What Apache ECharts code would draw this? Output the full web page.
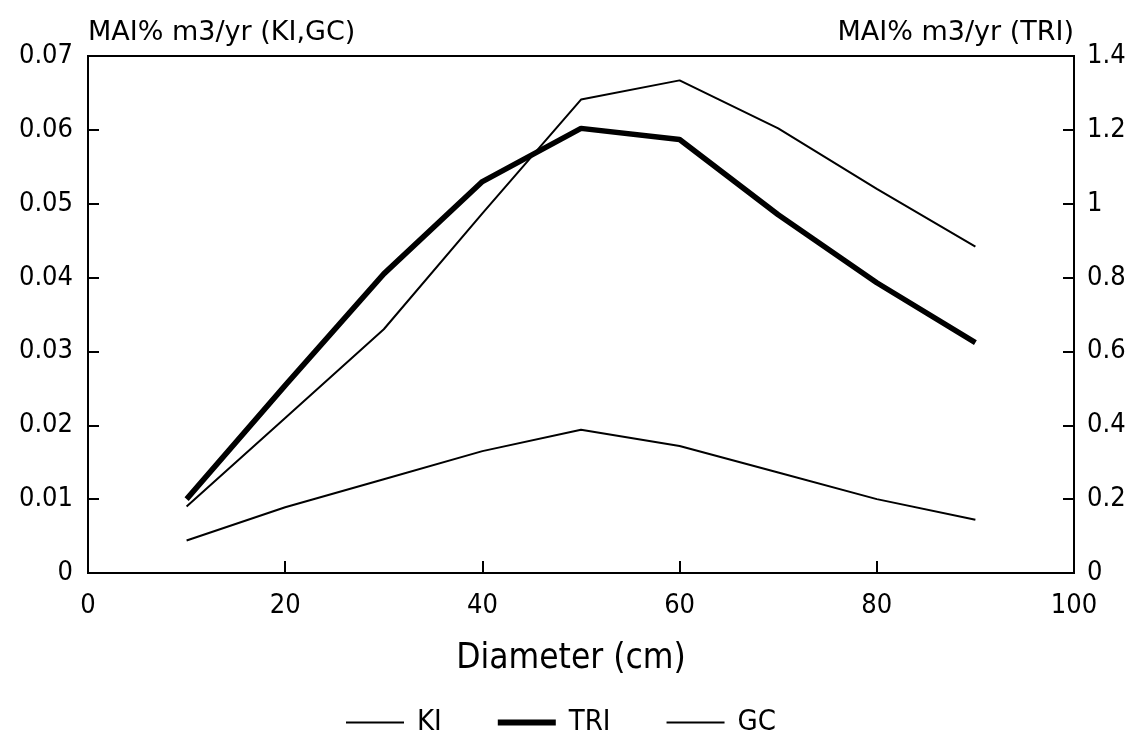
<!DOCTYPE html>
<html>
<head>
<meta charset="utf-8">
<script src="https://cdn.jsdelivr.net/npm/echarts@6/dist/echarts.min.js"></script>
<style>
html,body{margin:0;padding:0;background:#fff;}
#chart{width:1133px;height:746px;}
</style>
</head>
<body>
<div id="chart"></div>
<script>
const diameters = [10, 20, 30, 40, 50, 60, 70, 80, 90];
const kiValues = [0.009, 0.021, 0.033, 0.0487, 0.0641, 0.0667, 0.0602, 0.052, 0.0442];
const triValues = [0.2, 0.508, 0.81, 1.06, 1.204, 1.174, 0.97, 0.786, 0.624];
const gcValues = [0.0044, 0.0089, 0.0127, 0.0165, 0.0194, 0.0172, 0.0136, 0.0100, 0.0072];
const seriesNames = ['KI', 'TRI', 'GC'];
const leftAxisName = 'MAI% m3/yr (KI,GC)';
const rightAxisName = 'MAI% m3/yr (TRI)';
const xAxisName = 'Diameter (cm)';

const FONT = '"DejaVu Sans Condensed", "Liberation Sans Narrow", "DejaVu Sans", sans-serif';
const WIDE = '"DejaVu Sans", sans-serif';
const pairs = vals => diameters.map((d, i) => [d, vals[i]]);
const thinIcon = 'path://M0,0 L58,0 L58,2 L0,2 Z';
const thickIcon = 'path://M0,0 L58,0 L58,6 L0,6 Z';

const chart = echarts.init(document.getElementById('chart'));
chart.setOption({
  animation: false,
  backgroundColor: '#fff',
  grid: {left: 88, right: 59, top: 56, bottom: 173, show: true, borderColor: '#000', borderWidth: 2, backgroundColor: 'transparent'},
  legend: {
    left: 341, top: 703, itemWidth: 58, itemHeight: 14, itemGap: 56,
    data: [
      {name: seriesNames[0], icon: thinIcon},
      {name: seriesNames[1], icon: thickIcon},
      {name: seriesNames[2], icon: thinIcon}
    ],
    itemStyle: {color: '#000', borderWidth: 0},
    textStyle: {fontFamily: FONT, fontSize: 29, color: '#000', padding: [0, 0, 0, 8]}
  },
  xAxis: {
    type: 'value', min: 0, max: 100, interval: 20,
    name: xAxisName, nameLocation: 'middle', nameGap: 68,
    nameTextStyle: {fontFamily: FONT, fontSize: 35, color: '#000', padding: [0, 20, 0, 0]},
    axisLine: {show: true, lineStyle: {color: '#000', width: 2}},
    axisTick: {show: true, inside: true, length: 12, lineStyle: {color: '#000', width: 2}},
    axisLabel: {fontFamily: FONT, fontSize: 27, color: '#000', margin: 19},
    splitLine: {show: false}
  },
  yAxis: [{
    type: 'value', min: 0, max: 0.07, interval: 0.01, position: 'left',
    name: leftAxisName, nameLocation: 'end', nameGap: 10,
    nameTextStyle: {fontFamily: WIDE, fontSize: 27, color: '#000', align: 'left', verticalAlign: 'bottom'},
    axisLine: {show: true, lineStyle: {color: '#000', width: 2}},
    axisTick: {show: true, inside: true, length: 11, lineStyle: {color: '#000', width: 2}},
    axisLabel: {fontFamily: FONT, fontSize: 27, color: '#000', margin: 15},
    splitLine: {show: false}
  }, {
    type: 'value', min: 0, max: 1.4, interval: 0.2, position: 'right',
    name: rightAxisName, nameLocation: 'end', nameGap: 10,
    nameTextStyle: {fontFamily: WIDE, fontSize: 27, color: '#000', align: 'right', verticalAlign: 'bottom'},
    axisLine: {show: true, lineStyle: {color: '#000', width: 2}},
    axisTick: {show: true, inside: true, length: 11, lineStyle: {color: '#000', width: 2}},
    axisLabel: {fontFamily: FONT, fontSize: 27, color: '#000', margin: 13},
    splitLine: {show: false}
  }],
  series: [
    {name: 'KI', type: 'line', yAxisIndex: 0, data: pairs(kiValues), symbol: 'none',
     lineStyle: {color: '#000', width: 2}, itemStyle: {color: '#000'}},
    {name: 'TRI', type: 'line', yAxisIndex: 1, data: pairs(triValues), symbol: 'none',
     lineStyle: {color: '#000', width: 5.5}, itemStyle: {color: '#000'}},
    {name: 'GC', type: 'line', yAxisIndex: 0, data: pairs(gcValues), symbol: 'none',
     lineStyle: {color: '#000', width: 2}, itemStyle: {color: '#000'}}
  ]
});
</script>
</body>
</html>
